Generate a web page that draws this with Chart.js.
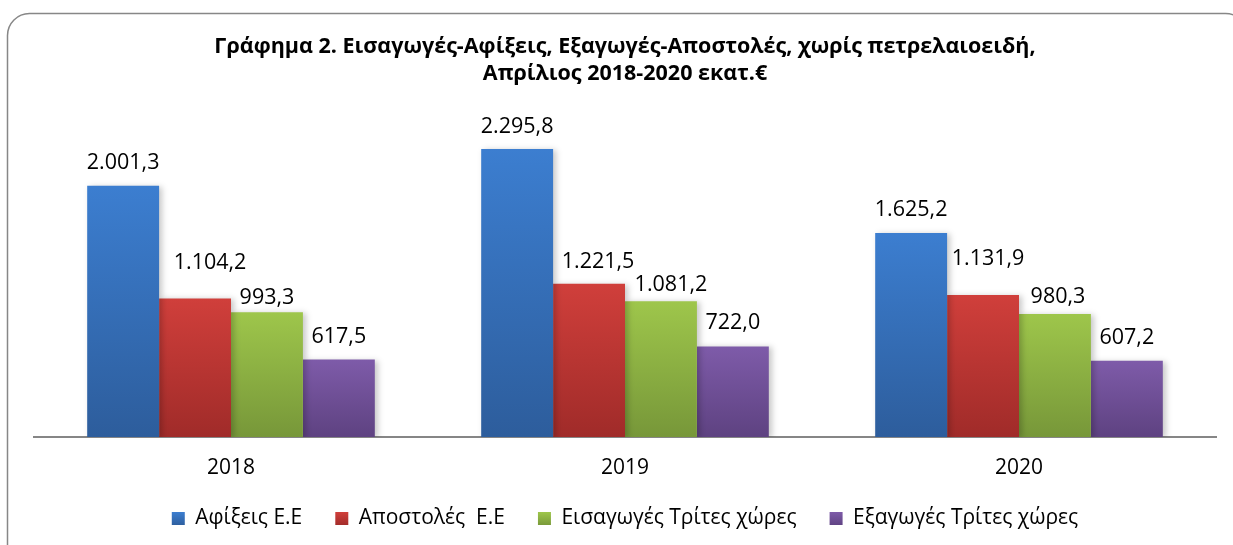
<!DOCTYPE html>
<html>
<head>
<meta charset="utf-8">
<script src="https://cdn.jsdelivr.net/npm/chart.js@4.4.1/dist/chart.umd.min.js"></script>
<style>
html,body{margin:0;padding:0;background:#fff;}
#wrap{width:1233px;height:545px;position:relative;}
</style>
</head>
<body>
<div id="wrap"><canvas id="c" width="1233" height="545"></canvas></div>
<script>
// ---- data ----
const categories = ['2018', '2019', '2020'];
const seriesNames = ['Αφίξεις Ε.Ε', 'Αποστολές  Ε.Ε', 'Εισαγωγές Τρίτες χώρες', 'Εξαγωγές Τρίτες χώρες'];
const arrivalsEU = [2001.3, 2295.8, 1625.2];
const dispatchesEU = [1104.2, 1221.5, 1131.9];
const importsThird = [993.3, 1081.2, 980.3];
const exportsThird = [617.5, 722.0, 607.2];
const titleLines = ['Γράφημα 2. Εισαγωγές-Αφίξεις, Εξαγωγές-Αποστολές, χωρίς πετρελαιοειδή,', 'Απρίλιος 2018-2020 εκατ.€'];

// ---- styles ----
const gradColors = [
  ['#3C7ED0', '#2D5D9C'],
  ['#D03F3B', '#A02B29'],
  ['#9EC64B', '#779739'],
  ['#7E5BA9', '#5E4281']
];
// label nudges relative to default (centered, 17px above bar top)
const labelNudge = [
  [[0,0],[0,1],[0,0]],
  [[15,-12],[9,1],[5,-13]],
  [[0,9],[10,7],[3,6]],
  [[0,0],[0,0],[0,0]]
];

function fmt(v) {
  const parts = v.toFixed(1).split('.');
  const intPart = parts[0].replace(/\B(?=(\d{3})+(?!\d))/g, '.');
  return intPart + ',' + parts[1];
}

function barGradient(i) {
  return function(c) {
    const chart = c.chart;
    const area = chart.chartArea;
    if (!area || c.type !== 'data' || !chart.scales.y) return gradColors[i][0];
    const y = chart.scales.y;
    const top = y.getPixelForValue(c.raw);
    const bot = y.getPixelForValue(0);
    const g = chart.ctx.createLinearGradient(0, top, 0, bot);
    g.addColorStop(0, gradColors[i][0]);
    g.addColorStop(1, gradColors[i][1]);
    return g;
  };
}

const FONT = "'Open Sans', 'Noto Sans', sans-serif";

const framePlugin = {
  id: 'frame',
  beforeDraw(chart) {
    const ctx = chart.ctx;
    ctx.save();
    ctx.fillStyle = '#fff';
    ctx.fillRect(0, 0, chart.width, chart.height);
    ctx.beginPath();
    ctx.roundRect(7.5, 13.5, 1240, 570, 22);
    ctx.strokeStyle = '#878787';
    ctx.lineWidth = 1.5;
    ctx.stroke();
    ctx.restore();
  },
  beforeDatasetsDraw(chart) {
    const ctx = chart.ctx;
    ctx.save();
    ctx.shadowColor = 'rgba(0,0,0,0.22)';
    ctx.shadowBlur = 6;
    ctx.shadowOffsetX = 3;
    ctx.shadowOffsetY = 1;
  },
  afterDatasetsDraw(chart) {
    const ctx = chart.ctx;
    ctx.restore();
    ctx.save();
    ctx.font = "21.5px " + FONT;
    ctx.fillStyle = '#000';
    ctx.textAlign = 'center';
    ctx.textBaseline = 'alphabetic';
    chart.data.datasets.forEach((ds, di) => {
      const meta = chart.getDatasetMeta(di);
      meta.data.forEach((bar, i) => {
        const n = labelNudge[di][i];
        ctx.fillText(fmt(ds.data[i]), bar.x + n[0], bar.y - 17 + n[1]);
      });
    });
    ctx.restore();
  }
};

const seriesData = [arrivalsEU, dispatchesEU, importsThird, exportsThird];

new Chart(document.getElementById('c'), {
  type: 'bar',
  data: {
    labels: categories,
    datasets: seriesData.map((d, i) => ({
      label: seriesNames[i],
      data: d,
      backgroundColor: barGradient(i),
      borderWidth: 0,
      categoryPercentage: 0.73,
      barPercentage: 1.0
    }))
  },
  options: {
    responsive: false,
    animation: false,
    events: [],
    layout: { padding: { left: 34, right: 17, top: 0, bottom: 6 } },
    plugins: {
      tooltip: { enabled: false },
      title: {
        display: true,
        text: titleLines,
        color: '#000',
        font: { family: FONT, size: 21.5, weight: 'bold', lineHeight: '27px' },
        padding: { top: 33, bottom: 0 }
      },
      legend: {
        position: 'bottom',
        labels: {
          color: '#000',
          font: { family: FONT, size: 21 },
          boxWidth: 13,
          boxHeight: 13,
          padding: 33,
          generateLabels(chart) {
            const items = Chart.defaults.plugins.legend.labels.generateLabels(chart);
            items.forEach((it, i) => {
              const g = chart.ctx.createLinearGradient(0, 512, 0, 526);
              g.addColorStop(0, gradColors[i][0]);
              g.addColorStop(1, gradColors[i][1]);
              it.fillStyle = g;
              it.strokeStyle = 'rgba(0,0,0,0)';
              it.lineWidth = 0;
            });
            return items;
          }
        }
      }
    },
    scales: {
      x: {
        grid: { display: false, drawTicks: false },
        border: { display: true, color: '#868686', width: 2 },
        ticks: { color: '#000', padding: 29, font: { family: FONT, size: 21, lineHeight: 0.2 } },
        afterFit(scale) { scale.height = 38; }
      },
      y: {
        display: false,
        min: 0,
        max: 2789
      }
    }
  },
  plugins: [framePlugin]
});
</script>
</body>
</html>
